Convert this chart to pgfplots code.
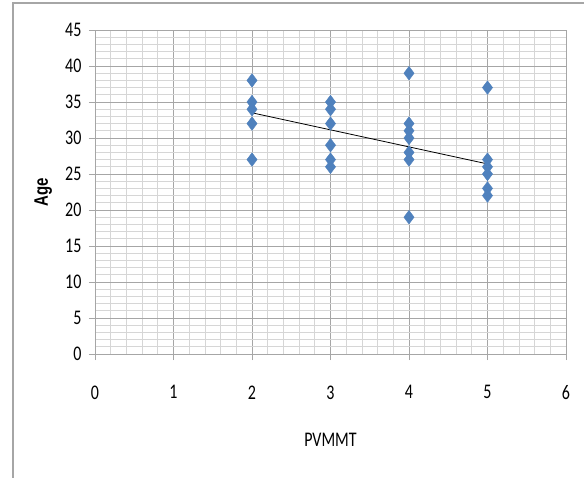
\documentclass[border=0pt]{standalone}
\usepackage{pgfplots}
\pgfplotsset{compat=1.18}
\usepackage{fontspec}
\setmainfont{Carlito}
\newfontfamily\arialfont{Liberation Sans}
\usepackage{graphicx}
\definecolor{excelblue}{HTML}{4F81BD}
\newcommand{\tall}[1]{\scalebox{1}[1.3]{#1}}

\begin{document}
\begin{tikzpicture}
\useasboundingbox (-95pt,-123pt) rectangle (489pt,354pt);
\fill[white] (-95pt,-123pt) rectangle (489pt,354pt);
% chart frame (cut off at right and bottom)
\draw[gray!70, line width=1.5pt] (-82pt,-130pt) -- (-82pt,351pt) -- (500pt,351pt);
\begin{axis}[
    at={(0,0)}, anchor=south west,
    scale only axis, width=471pt, height=324pt,
    xmin=0, xmax=6, ymin=0, ymax=45,
    xtick={0,...,6}, ytick={0,5,...,45},
    minor x tick num=4, minor y tick num=4,
    grid=both,
    major grid style={gray!70, line width=0.7pt},
    minor grid style={gray!32, line width=0.7pt},
    axis x line*=bottom, axis y line*=left,
    axis line style={-, gray!70, line width=0.7pt},
    tick align=outside, major tick length=6pt, minor tick length=0pt,
    tick style={gray!70, line width=0.7pt},
    /pgf/number format/assume math mode=true,
    tick label style={font=\fontsize{16}{16}\selectfont},
    xticklabel={\tall{\pgfmathprintnumber{\tick}}},
    yticklabel={\tall{\pgfmathprintnumber{\tick}}},
    xticklabel style={yshift=-22pt},
    yticklabel style={xshift=-4pt},
    xlabel={\tall{PVMMT}},
    ylabel={\arialfont\bfseries\tall{Age}},
    xlabel style={at={(axis description cs:0.5,-0.265)}, anchor=center, font=\fontsize{16}{16}\selectfont},
    ylabel style={at={(axis description cs:-0.11,0.5)}, anchor=center, rotate=0, font=\fontsize{15}{15}\selectfont},
  ]
  % observed points
  \addplot[only marks, color=excelblue, mark=diamond*, mark size=6.8pt,
           mark options={solid, fill=excelblue, draw=none}] table {
    x y
    2 38
    2 35
    2 34
    2 32
    2 27
    3 35
    3 34
    3 32
    3 29
    3 27
    3 26
    4 39
    4 32
    4 31
    4 30
    4 28
    4 27
    4 19
    5 37
    5 27
    5 26
    5 25
    5 23
    5 22
  };
  % linear trend
  \addplot[black, line width=0.8pt] coordinates {(2,33.5) (5,26.4)};
\end{axis}
\end{tikzpicture}
\end{document}
